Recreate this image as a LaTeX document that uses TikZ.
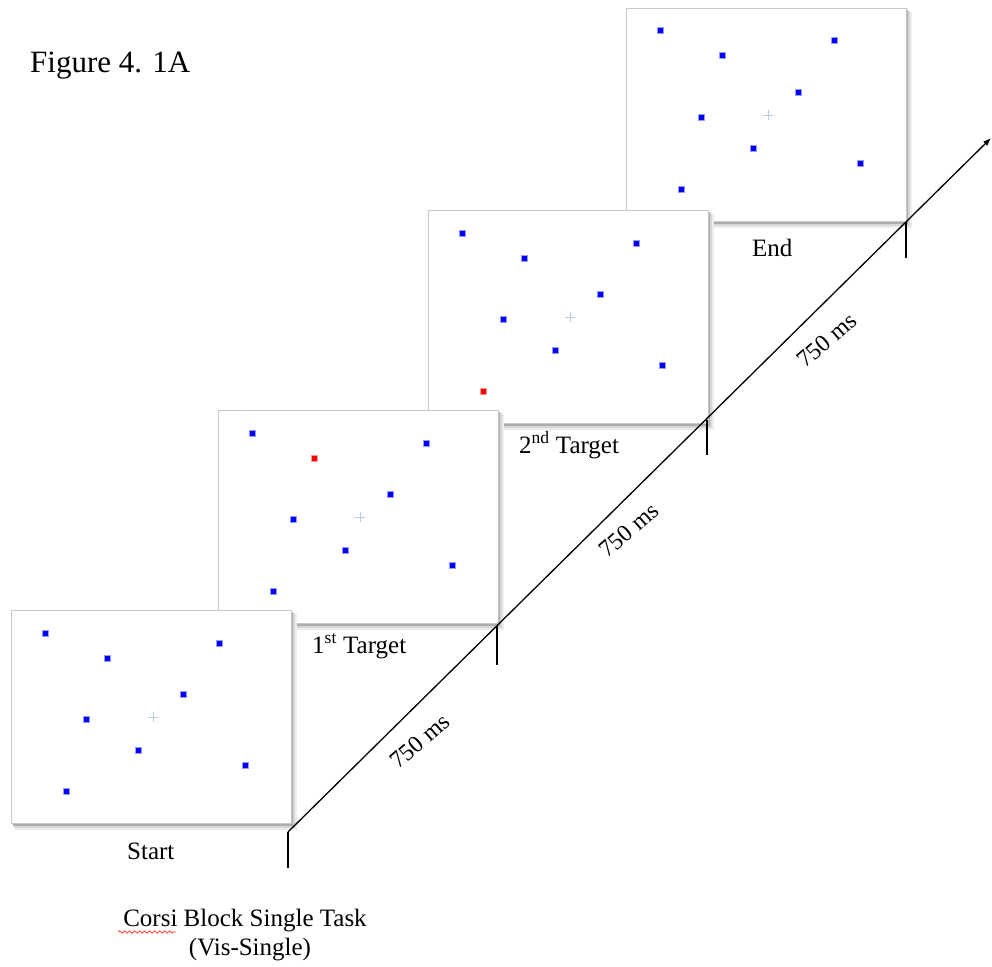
\documentclass[tikz,border=0pt]{standalone}
\usepackage{fontspec}
\setmainfont{Liberation Serif}
\usetikzlibrary{arrows.meta,decorations.pathmorphing}

\definecolor{crossblue}{RGB}{185,200,228}

% One stimulus screen: name, top-left x, top-left y, index of the red square (0 = none)
\newcommand\stimscreen[4]{%
  \begin{scope}[shift={(#2,#3)}]
    \fill[black!7]  (4,4) rectangle (286,220);
    \fill[black!16] (3,3) rectangle (284,218);
    \fill[black!32] (2,2) rectangle (282,215.5);
    \node[screen] (#1) at (0,0) {};
    \def\redidx{#4}%
    \foreach \i/\dx/\dy in {1/34/23,2/96/48,3/208/33,4/172/84,5/75/109,6/127/140,7/234/155,8/55/181}{%
      \ifnum\i=\redidx\relax\def\dotcol{red}\else\def\dotcol{blue}\fi
      \node[sq, fill=\dotcol, draw=\dotcol!40] (#1-d\i) at (\dx,\dy) {};
    }
    \draw[crossmark] (137,107) -- (147,107) (142,102) -- (142,112);
  \end{scope}}

\begin{document}
\begin{tikzpicture}[x=1pt,y=-1pt,
  screen/.style={draw=black!22, line width=0.9pt, fill=white, minimum width=280pt,
    minimum height=213pt, inner sep=0pt, outer sep=0pt, anchor=north west},
  sq/.style={minimum size=6pt, inner sep=0pt, line width=1pt},
  crossmark/.style={draw=crossblue, line width=0.8pt},
  axis/.style={line width=1.3pt, black},
  tick/.style={line width=1.4pt, black},
  lbl/.style={font=\fontsize{25}{30}\selectfont, inner sep=0pt, anchor=base west},
  dur/.style={font=\fontsize{24}{28}\selectfont, inner sep=0pt, rotate=41}
]
\useasboundingbox (0,0) rectangle (992,966);

% screens, back to front
\stimscreen{sEnd}{626}{8}{0}
\stimscreen{sTwo}{428}{210}{8}
\stimscreen{sOne}{218}{410}{2}
\stimscreen{sStart}{11}{610}{0}

% heading
\node[lbl, font=\fontsize{31}{36}\selectfont] (title) at (30,72) {Figure 4. 1A};

% time axis
\coordinate (t0) at (288,832);
\coordinate (t1) at (497,626);
\coordinate (t2) at (707,420);
\coordinate (t3) at (906,222);
\coordinate (tip) at (991,138);
\coordinate (b0) at (288,868);
\coordinate (b1) at (497,665);
\coordinate (b2) at (707,455);
\coordinate (b3) at (906,258);
\draw[axis, -{Latex[length=8pt,width=6pt]}] (t0) -- (tip);
\draw[tick] (t0) -- (b0);
\draw[tick] (t1) -- (b1);
\draw[tick] (t2) -- (b2);
\draw[tick] (t3) -- (b3);

% durations
\node[dur] (d1) at (420,741) {750 ms};
\node[dur] (d2) at (629,530) {750 ms};
\node[dur] (d3) at (827,340) {750 ms};

% screen captions
\node[lbl] (capStart) at (127,859) {Start};
\node[lbl] (capOne) at (312,653) {1\textsuperscript{st} Target};
\node[lbl] (capTwo) at (519,453) {2\textsuperscript{nd} Target};
\node[lbl] (capEnd) at (752,256) {End};

% task name
\node[lbl, anchor=base] (task) at (245,926) {Corsi Block Single Task};
\node[lbl, anchor=base] (taskSub) at (250,955) {(Vis-Single)};
\draw[red!75, line width=0.8pt, decorate,
  decoration={snake, amplitude=1.2pt, segment length=5pt}] (118,932) -- (176,932);
\end{tikzpicture}
\end{document}
